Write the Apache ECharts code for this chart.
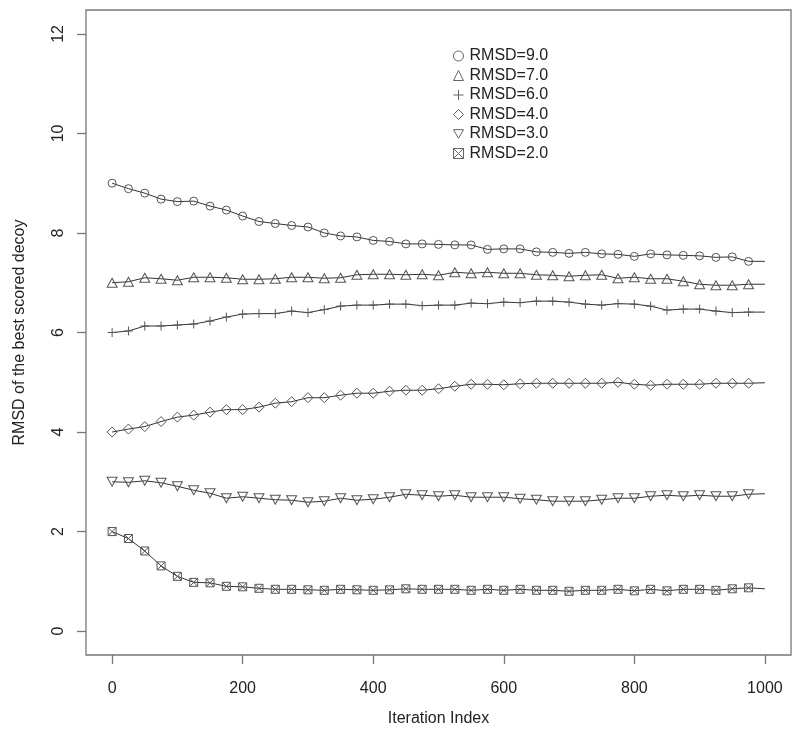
<!DOCTYPE html>
<html>
<head>
<meta charset="utf-8">
<title>RMSD of the best scored decoy</title>
<script src="https://cdn.jsdelivr.net/npm/echarts@6/dist/echarts.min.js"></script>
<style>
  html, body { margin: 0; padding: 0; background: #fff; }
  #main { width: 800px; height: 740px; }
</style>
</head>
<body>
<div id="main"></div>
<script>
// x positions: one point every 25 iterations, the last one (1000) has no marker
var iterations = Array.from({ length: 41 }, function (_, i) { return i * 25 })

var rmsd9 = [9.00, 8.89, 8.80, 8.68, 8.63, 8.64, 8.54, 8.46, 8.34, 8.23, 8.19, 8.15, 8.12, 8.00, 7.94, 7.92, 7.85, 7.83, 7.78, 7.78, 7.77,
  7.76, 7.76, 7.67, 7.68, 7.68, 7.62, 7.61, 7.59, 7.61, 7.58, 7.57, 7.53, 7.58, 7.56, 7.55, 7.54, 7.51, 7.52, 7.43, 7.43]
var rmsd7 = [7.00, 7.02, 7.10, 7.08, 7.05, 7.11, 7.11, 7.10, 7.07, 7.07, 7.08, 7.11, 7.11, 7.09, 7.10, 7.16, 7.17, 7.17, 7.16, 7.17, 7.15,
  7.21, 7.19, 7.21, 7.19, 7.19, 7.16, 7.15, 7.13, 7.15, 7.16, 7.09, 7.11, 7.08, 7.08, 7.03, 6.97, 6.95, 6.95, 6.97, 6.97]
var rmsd6 = [6.00, 6.03, 6.13, 6.13, 6.15, 6.17, 6.23, 6.31, 6.37, 6.38, 6.38, 6.43, 6.40, 6.46, 6.53, 6.55, 6.55, 6.57, 6.57, 6.54, 6.55,
  6.55, 6.59, 6.58, 6.61, 6.60, 6.63, 6.63, 6.61, 6.57, 6.55, 6.58, 6.57, 6.53, 6.45, 6.47, 6.47, 6.43, 6.40, 6.41, 6.41]
var rmsd4 = [4.00, 4.06, 4.11, 4.21, 4.30, 4.34, 4.40, 4.45, 4.45, 4.50, 4.58, 4.61, 4.69, 4.69, 4.74, 4.78, 4.78, 4.82, 4.84, 4.84, 4.87,
  4.92, 4.96, 4.96, 4.95, 4.97, 4.98, 4.98, 4.98, 4.98, 4.98, 5.00, 4.96, 4.94, 4.96, 4.96, 4.96, 4.98, 4.98, 4.98, 4.99]
var rmsd3 = [3.00, 2.99, 3.02, 2.98, 2.91, 2.83, 2.77, 2.67, 2.70, 2.67, 2.64, 2.63, 2.59, 2.61, 2.67, 2.63, 2.65, 2.69, 2.75, 2.73, 2.71,
  2.73, 2.69, 2.69, 2.69, 2.66, 2.64, 2.61, 2.61, 2.61, 2.64, 2.67, 2.67, 2.71, 2.73, 2.71, 2.73, 2.71, 2.71, 2.75, 2.76]
var rmsd2 = [2.00, 1.86, 1.61, 1.31, 1.10, 0.98, 0.97, 0.90, 0.89, 0.86, 0.84, 0.84, 0.83, 0.82, 0.84, 0.83, 0.82, 0.83, 0.85, 0.84, 0.84,
  0.84, 0.82, 0.84, 0.82, 0.84, 0.82, 0.82, 0.80, 0.82, 0.82, 0.84, 0.81, 0.84, 0.81, 0.84, 0.84, 0.82, 0.85, 0.87, 0.85]

var seriesNames = ['RMSD=9.0', 'RMSD=7.0', 'RMSD=6.0', 'RMSD=4.0', 'RMSD=3.0', 'RMSD=2.0']
var xTicks = [0, 200, 400, 600, 800, 1000]
var yTicks = [0, 2, 4, 6, 8, 10, 12]

// R style open symbols
var symbols = {
  circle: 'circle',
  triangle: 'triangle',
  plus: 'path://M5,0L5,10M0,5L10,5',
  diamond: 'diamond',
  down: 'path://M0,0L10,0L5,8.7Z',
  boxX: 'path://M0,0L10,0L10,10L0,10ZM0,0L10,10M10,0L0,10'
}

var markColor = '#555'
var lineColor = '#333'
var font = '"Liberation Sans", Arial, sans-serif'

function makeSeries(name, values, symbol, size) {
  var data = values.map(function (v, i) {
    var p = { value: [iterations[i], v] }
    if (i === values.length - 1) p.symbol = 'none'
    return p
  })
  return {
    name: name,
    type: 'line',
    data: data,
    symbol: symbol,
    symbolSize: size,
    showAllSymbol: true,
    itemStyle: { color: 'transparent', borderColor: markColor, borderWidth: 1 },
    lineStyle: { color: lineColor, width: 1 },
    emphasis: { disabled: true },
    animation: false
  }
}

function plain(v) { return String(v) }

var chart = echarts.init(document.getElementById('main'))
chart.setOption({
  animation: false,
  textStyle: { fontFamily: font },
  grid: {
    left: 86, right: 9, top: 10, bottom: 85,
    show: true, borderColor: '#777', borderWidth: 1.3, backgroundColor: '#fff'
  },
  legend: {
    orient: 'vertical',
    left: 448,
    top: 43,
    itemWidth: 10,
    itemHeight: 10,
    itemGap: 3.5,
    itemStyle: { borderWidth: 1, borderColor: '#666' },
    textStyle: { fontSize: 16, color: '#222', lineHeight: 16, fontFamily: font, padding: [0, 0, 0, 1] },
    data: [
      { name: seriesNames[0], icon: symbols.circle },
      { name: seriesNames[1], icon: symbols.triangle },
      { name: seriesNames[2], icon: symbols.plus },
      { name: seriesNames[3], icon: symbols.diamond },
      { name: seriesNames[4], icon: symbols.down },
      { name: seriesNames[5], icon: symbols.boxX }
    ]
  },
  xAxis: {
    type: 'value',
    min: -40,
    max: 1040,
    name: 'Iteration Index',
    nameLocation: 'middle',
    nameGap: 56,
    nameTextStyle: { fontSize: 16, color: '#222' },
    axisLine: { show: false, onZero: false },
    splitLine: { show: false },
    axisTick: { show: true, length: 9, customValues: xTicks, lineStyle: { color: '#777', width: 1.3 } },
    axisLabel: { customValues: xTicks, margin: 26, fontSize: 16, color: '#222', formatter: plain }
  },
  yAxis: {
    type: 'value',
    min: -0.48,
    max: 12.48,
    name: 'RMSD of the best scored decoy',
    nameLocation: 'middle',
    nameGap: 58,
    nameTextStyle: { fontSize: 16, color: '#222' },
    axisLine: { show: false, onZero: false },
    splitLine: { show: false },
    axisTick: { show: true, length: 9, customValues: yTicks, lineStyle: { color: '#777', width: 1.3 } },
    axisLabel: { customValues: yTicks, rotate: 90, margin: 19, fontSize: 16, color: '#222', formatter: plain }
  },
  series: [
    makeSeries(seriesNames[0], rmsd9, symbols.circle, 8),
    makeSeries(seriesNames[1], rmsd7, symbols.triangle, [10, 9]),
    makeSeries(seriesNames[2], rmsd6, symbols.plus, 9),
    makeSeries(seriesNames[3], rmsd4, symbols.diamond, 10),
    makeSeries(seriesNames[4], rmsd3, symbols.down, [10, 9]),
    makeSeries(seriesNames[5], rmsd2, symbols.boxX, 8)
  ]
})
</script>
</body>
</html>
